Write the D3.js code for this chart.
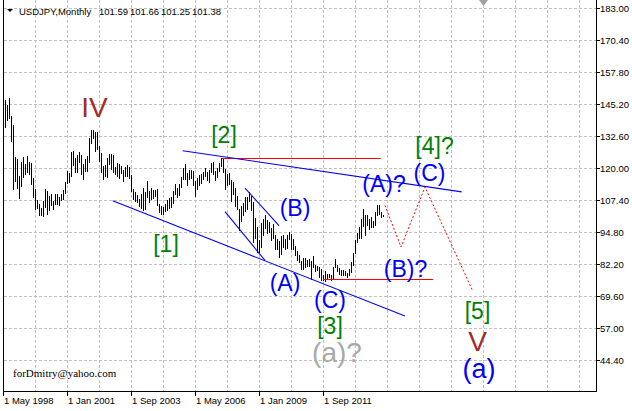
<!DOCTYPE html>
<html><head><meta charset="utf-8">
<script src="https://cdn.jsdelivr.net/npm/d3@7/dist/d3.min.js"></script>
<style>body{margin:0;background:#fff}svg{display:block}</style>
</head><body>
<svg id="c" width="632" height="411"></svg>
<script>
// ---- data ----
const symbolTitle = "USDJPY,Monthly";
const lastQuote = ["101.59", "101.66", "101.25", "101.38"];
const firstBarMonth = 1;               // months after May 1998 (Jun 1998)
const highs = [
  146.8, 145.0, 147.6, 140.5, 136.9, 124.4, 123.5,
  117.0, 122.5, 124.2, 121.5, 124.8, 122.5, 122.0, 116.0, 111.6, 107.5, 106.0, 104.3,
  107.0, 111.9, 111.0, 109.0, 109.6, 107.0, 109.8, 109.8, 108.5, 109.7, 111.2, 114.6,
  119.0, 118.2, 126.2, 126.8, 124.0, 125.0, 126.2, 125.0, 121.5, 123.7, 124.7, 131.7,
  135.1, 135.0, 134.0, 134.0, 128.5, 126.0, 120.8, 121.3, 124.1, 125.6, 125.6, 125.2,
  120.4, 121.9, 121.6, 120.7, 119.3, 120.3, 121.0, 120.5, 117.1, 111.9, 110.6, 109.2,
  107.7, 109.8, 112.2, 110.6, 114.9, 111.0, 112.0, 111.3, 111.5, 111.9, 106.0, 105.0,
  104.5, 106.0, 107.5, 108.3, 108.6, 111.0, 113.7, 112.0, 113.6, 116.4, 120.1, 121.4,
  118.0, 119.4, 119.2, 118.7, 114.7, 116.0, 117.3, 117.7, 118.3, 119.9, 118.3, 119.2,
  122.1, 122.2, 119.0, 120.0, 122.0, 124.1, 123.7, 119.8, 117.5, 117.9, 115.3, 114.6,
  112.0, 108.8, 104.0, 105.0, 106.1, 108.5, 108.5, 110.7, 109.0, 106.5, 100.5, 96.7,
  91.6, 98.5, 100.0, 101.4, 99.6, 98.9, 96.5, 97.8, 93.5, 92.2, 91.3, 93.1,
  93.8, 92.0, 93.8, 94.7, 94.0, 92.1, 89.1, 87.4, 85.9, 83.4, 84.5, 84.5,
  83.7, 84.0, 83.3, 85.5, 82.0, 81.5, 81.2, 80.3, 77.8, 79.5, 78.3, 78.3,
  77.8, 81.2, 84.2, 82.0, 80.6, 80.0, 79.9, 79.6, 78.7, 80.3, 82.8, 86.6,
  91.7, 94.5, 96.7, 99.9, 103.7, 101.5, 101.5, 99.9, 100.6, 99.0, 102.6, 105.4,
  105.4, 102.7, 101.66
];
const lows = [
  136.0, 138.8, 139.6, 130.5, 111.6, 115.0, 112.0,
  108.3, 113.0, 116.5, 117.5, 118.3, 117.8, 113.7, 108.5, 103.7, 104.2, 101.6, 101.3,
  101.2, 104.8, 102.0, 103.5, 105.4, 104.0, 105.7, 106.0, 105.3, 107.5, 107.8, 110.0,
  114.0, 114.3, 117.0, 121.3, 118.5, 118.3, 122.5, 117.8, 115.8, 119.0, 119.0, 122.5,
  130.0, 132.0, 126.6, 127.5, 122.9, 118.4, 115.6, 116.8, 116.6, 121.5, 119.7, 118.6,
  117.5, 116.9, 115.9, 118.0, 115.0, 116.9, 116.8, 115.9, 110.8, 107.9, 107.2, 106.7,
  105.2, 104.2, 103.4, 103.7, 108.6, 106.8, 107.6, 108.2, 108.8, 105.3, 102.6, 101.8,
  101.7, 103.2, 103.4, 104.2, 104.5, 106.2, 109.9, 108.6, 109.3, 112.6, 115.5, 115.8,
  113.4, 115.8, 115.9, 113.4, 108.9, 111.6, 113.5, 114.1, 115.5, 116.8, 115.4, 114.5,
  118.6, 117.8, 115.2, 116.6, 118.8, 120.9, 118.3, 111.6, 113.2, 113.8, 107.2, 109.7,
  104.9, 103.8, 95.7, 99.0, 101.4, 103.2, 103.8, 107.0, 103.5, 90.9, 92.5, 87.1,
  87.1, 88.8, 93.5, 96.5, 94.4, 94.8, 91.7, 92.5, 88.2, 88.0, 84.8, 86.3,
  89.0, 88.1, 88.4, 92.1, 88.2, 88.1, 85.9, 83.6, 82.9, 80.2, 80.3, 81.2,
  81.6, 81.3, 76.3, 81.2, 79.6, 79.7, 76.9, 75.9, 75.9, 75.6, 76.6, 76.9,
  76.0, 76.1, 80.9, 79.6, 78.3, 77.7, 77.9, 77.9, 77.1, 77.7, 79.0, 81.7,
  86.5, 91.0, 92.6, 92.6, 97.0, 93.8, 97.6, 95.8, 96.9, 96.6, 97.6, 101.6,
  101.8, 100.8, 101.25
];
const priceTicks = [183.00, 170.40, 157.80, 145.20, 132.60, 120.00, 107.40, 94.80, 82.20, 69.60, 57.00, 44.40];
const dateTickMonths = [0, 32, 64, 96, 128, 160];
const dateTickLabels = ["1 May 1998", "1 Jan 2001", "1 Sep 2003", "1 May 2006", "1 Jan 2009", "1 Sep 2011"];
const gridMonthStep = 16;
// trend lines: [month, price] pairs
const blueLines = [
  [[89.85, 126.8], [229.35, 110.6]],
  [[54.85, 107.1], [201.0, 61.7]],
  [[111.0, 102.8], [131.0, 83.6]],
  [[121.0, 112.1], [138.0, 97.3]]
];
const redLevels = [[109.5, 188.9, 124.13], [160.0, 215.0, 76.1]];
const projectionPath = [[191, 105.3], [199, 88.9], [211, 112.5], [234.8, 71.7]];
// wave labels: text, month, price (baseline), kind
const waveLabels = [
  ["IV", 45.75, 140.1, "roman"],
  ["[2]", 110.5, 129.8, "minor"],
  ["[1]", 81.5, 86.9, "minor"],
  ["(B)", 146, 101.1, "inter"],
  ["(A)", 141, 71.6, "inter"],
  ["(C)", 163.5, 64.9, "inter"],
  ["[3]", 163.5, 54.6, "minor"],
  ["(a)?", 167, 43.6, "cycleGray"],
  ["(A)?", 190.5, 110.5, "inter"],
  ["(C)", 213.25, 114.9, "inter"],
  ["[4]?", 215.75, 125.5, "minor"],
  ["(B)?", 201.25, 77.1, "inter"],
  ["[5]", 237.25, 60.5, "minor"],
  ["V", 237.25, 47.9, "roman"],
  ["(a)", 238, 37.5, "cycle"]
];
const labelStyle = {
  roman: {color: "#a52a2a", size: 28},
  minor: {color: "#008000", size: 23},
  inter: {color: "#0000ff", size: 23},
  cycle: {color: "#0000ff", size: 27},
  cycleGray: {color: "#a9a9a9", size: 28}
};

// ---- drawing ----
const svg = d3.select("#c");
const L = 3, R = 596, T = 0, B = 391;
const x = d3.scaleLinear().domain([0, 296.5]).range([L, R]);
const y = d3.scaleLinear().domain([44.4, 183]).range([360, 8]);
const px = v => Math.round(v) + 0.5;
const font = "'Liberation Sans', Arial, sans-serif";

svg.append("rect").attr("width", 632).attr("height", 411).attr("fill", "#fff");

const grid = svg.append("g").attr("stroke", "#c0c0c0").attr("stroke-width", 1).attr("stroke-dasharray", "3,2");
grid.selectAll("line.h").data(priceTicks).join("line").attr("class", "h")
  .attr("x1", L + 1).attr("x2", R).attr("y1", d => px(y(d))).attr("y2", d => px(y(d)));
const vMonths = d3.range(gridMonthStep, 296, gridMonthStep);
grid.selectAll("line.v").data(vMonths).join("line").attr("class", "v")
  .attr("x1", d => px(x(d))).attr("x2", d => px(x(d))).attr("y1", T).attr("y2", B);

// bars
const bars = highs.map((h, k) => ({m: firstBarMonth + k, h, l: lows[k]}));
svg.append("g").attr("stroke", "#000").attr("stroke-width", 1)
  .selectAll("line").data(bars).join("line")
  .attr("x1", d => px(x(d.m))).attr("x2", d => px(x(d.m)))
  .attr("y1", d => Math.round(y(d.h))).attr("y2", d => Math.round(y(d.l)) + 1);

// red horizontal levels
svg.append("g").attr("stroke", "#ff0000").attr("stroke-width", 1)
  .selectAll("line").data(redLevels).join("line")
  .attr("x1", d => x(d[0])).attr("x2", d => x(d[1]))
  .attr("y1", d => px(y(d[2]))).attr("y2", d => px(y(d[2])));

// blue trend lines
svg.append("g").attr("stroke", "#0000ff").attr("stroke-width", 1.1)
  .selectAll("line").data(blueLines).join("line")
  .attr("x1", d => x(d[0][0])).attr("y1", d => y(d[0][1]))
  .attr("x2", d => x(d[1][0])).attr("y2", d => y(d[1][1]));

// projection
svg.append("path").datum(projectionPath)
  .attr("d", d3.line().x(d => x(d[0])).y(d => y(d[1])))
  .attr("fill", "none").attr("stroke", "#ff0000").attr("stroke-width", 1).attr("stroke-dasharray", "2,2");

// wave labels
svg.append("g").selectAll("text").data(waveLabels).join("text")
  .attr("x", d => x(d[1])).attr("y", d => y(d[2]))
  .attr("text-anchor", "middle")
  .attr("font-family", font)
  .attr("font-size", d => labelStyle[d[3]].size)
  .attr("fill", d => labelStyle[d[3]].color)
  .text(d => d[0]);

// frame
const frame = svg.append("g").attr("stroke", "#000").attr("stroke-width", 1);
frame.append("line").attr("x1", L + 0.5).attr("x2", L + 0.5).attr("y1", T).attr("y2", B + 1);
frame.append("line").attr("x1", R + 0.5).attr("x2", R + 0.5).attr("y1", T).attr("y2", B + 1);
frame.append("line").attr("x1", L).attr("x2", R + 1).attr("y1", B + 0.5).attr("y2", B + 0.5);

// price axis
const pa = svg.append("g");
pa.selectAll("line").data(priceTicks).join("line")
  .attr("x1", R + 1).attr("x2", R + 4).attr("y1", d => px(y(d))).attr("y2", d => px(y(d)))
  .attr("stroke", "#000");
pa.selectAll("text").data(priceTicks).join("text")
  .attr("x", R + 4).attr("y", d => y(d) + 3.5)
  .attr("font-family", font).attr("font-size", 9.5).attr("fill", "#000")
  .text(d => d3.format(".2f")(d));

// date axis
const da = svg.append("g");
da.selectAll("line").data(dateTickMonths).join("line")
  .attr("x1", d => px(x(d))).attr("x2", d => px(x(d))).attr("y1", B).attr("y2", B + 5)
  .attr("stroke", "#000");
da.selectAll("text").data(dateTickMonths).join("text")
  .attr("x", d => x(d) + 1).attr("y", 404)
  .attr("font-family", font).attr("font-size", 9.5).attr("fill", "#000")
  .text((d, k) => dateTickLabels[k]);

// title
svg.append("path").attr("d", "M7,9 L13,9 L10,12 Z").attr("fill", "#000");
const title = svg.append("text").attr("y", 15).attr("font-family", font).attr("font-size", 9.5).attr("fill", "#000");
title.append("tspan").attr("x", 19).text(symbolTitle);
title.selectAll("tspan.q").data(lastQuote).join("tspan").attr("class", "q")
  .attr("x", (d, k) => 99 + k * 31).text(d => d);

// shift marker
svg.append("path").attr("d", "M479,0 L488,0 L483.5,6 Z").attr("fill", "#a0a0a0");

// signature
svg.append("text").attr("x", 13).attr("y", 377).attr("font-family", "'Liberation Serif', 'Times New Roman', serif")
  .attr("font-size", 11).attr("fill", "#000").text("forDmitry@yahoo.com");
</script>
</body></html>
